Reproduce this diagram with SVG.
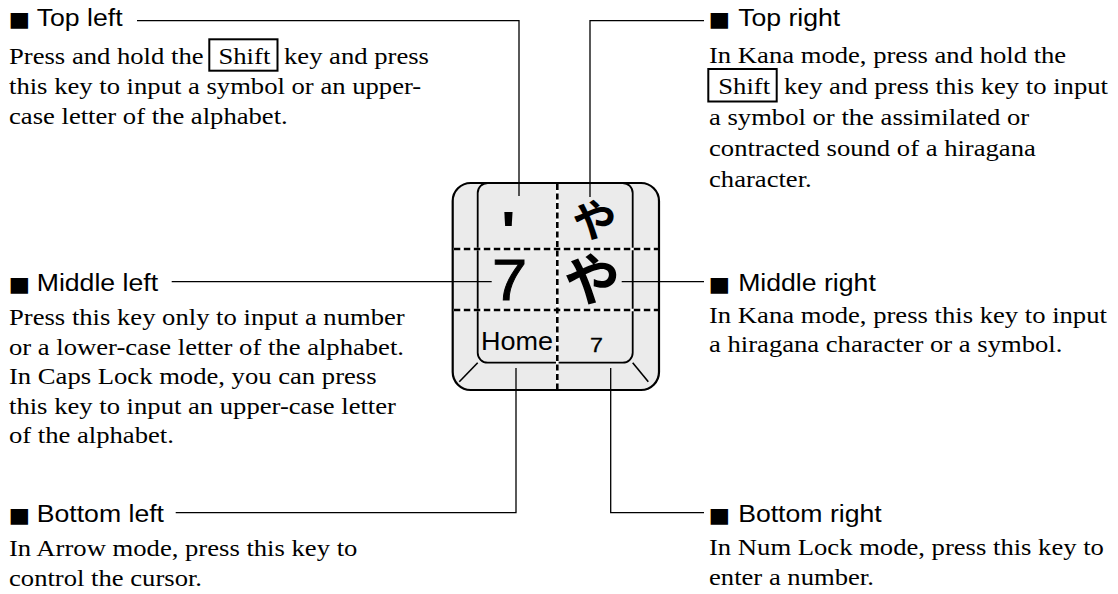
<svg xmlns="http://www.w3.org/2000/svg" width="1118" height="594" viewBox="0 0 1118 594">
<style>
.t{font-family:"Liberation Sans",Arial,"DejaVu Sans",sans-serif;font-size:24px;fill:#000}
.sq{font-family:"DejaVu Sans",sans-serif;font-size:20.5px}
.b{font-family:"Liberation Serif","Times New Roman",serif;font-size:24px;fill:#000}
.k{font-family:"Liberation Sans",Arial,sans-serif;fill:#000}
.j{font-family:"Noto Sans CJK JP","Noto Sans CJK SC",sans-serif;font-weight:700;fill:#000}
.box{fill:none;stroke:#000;stroke-width:2}
.conn{fill:none;stroke:#000;stroke-width:1.3}
.dw{stroke:#fff;stroke-width:2.6;fill:none}
.dk{stroke:#000;stroke-width:2.6;fill:none}
</style>
<rect width="1118" height="594" fill="#fff"/>

<g id="key">
  <rect x="452.7" y="183" width="206.3" height="207" rx="18" ry="18" fill="#ebebeb" stroke="#000" stroke-width="2.2"/>
  <rect x="477.7" y="183" width="155" height="179.7" rx="10" ry="10" fill="#ebebeb" stroke="#000" stroke-width="1.8"/>
  <line x1="477.7" y1="362.7" x2="459.3" y2="381.7" stroke="#000" stroke-width="1.6"/>
  <line x1="632.7" y1="362.7" x2="648.3" y2="381.7" stroke="#000" stroke-width="1.6"/>
  <line class="dw" x1="453.8" y1="249" x2="658" y2="249"/>
  <line class="dw" x1="453.8" y1="310" x2="658" y2="310"/>
  <line class="dw" x1="557.3" y1="184" x2="557.3" y2="389"/>
  <line class="dk" x1="453.8" y1="249" x2="658" y2="249" stroke-dasharray="6.5 3.5"/>
  <line class="dk" x1="453.8" y1="310" x2="658" y2="310" stroke-dasharray="6.5 3.5"/>
  <line class="dk" x1="557.3" y1="184" x2="557.3" y2="389" stroke-dasharray="6 3.5"/>
  <text class="k" font-size="56" font-weight="700" text-anchor="middle" transform="translate(508.5 250) scale(1.11 1)">'</text>
  <text class="j" font-size="44" text-anchor="middle" transform="translate(594.5 236.7)">や</text>
  <text class="k" font-size="57" text-anchor="middle" stroke="#000" stroke-width="0.9" transform="translate(509.5 300) scale(1.11 1)">7</text>
  <text class="j" font-size="56" text-anchor="middle" transform="translate(592 299.8)">や</text>
  <text class="k" font-size="25.5" transform="translate(481 350) scale(1.06 1)">Home</text>
  <text class="k" font-size="21" text-anchor="middle" stroke="#000" stroke-width="0.3" transform="translate(596.5 352) scale(1.11 1)">7</text>
</g>

<g id="connectors">
  <polyline class="conn" points="137,20.7 519,20.7 519,196"/>
  <polyline class="conn" points="590,197 590,20.7 704,20.7"/>
  <line class="conn" x1="171.7" y1="281.7" x2="491.7" y2="281.7"/>
  <line class="conn" x1="621.7" y1="281.7" x2="704" y2="281.7"/>
  <polyline class="conn" points="175.7,512.7 516,512.7 516,368"/>
  <polyline class="conn" points="610.7,368 610.7,512.7 704,512.7"/>
</g>

<g id="top-left">
  <text class="t" transform="translate(8.4 26) scale(1.11 1)"><tspan class="sq">■</tspan><tspan> </tspan><tspan x="25.5">Top left</tspan></text>
  <text class="b" transform="translate(9 64) scale(1.11 1)">Press and hold the</text>
  <rect class="box" x="209.3" y="39.3" width="68.2" height="31.4"/>
  <text class="b" transform="translate(218.5 64) scale(1.11 1)">Shift</text>
  <text class="b" transform="translate(284 64) scale(1.11 1)">key and press</text>
  <text class="b" transform="translate(9 94) scale(1.11 1)">this key to input a symbol or an upper-</text>
  <text class="b" transform="translate(9 124) scale(1.11 1)">case letter of the alphabet.</text>
</g>

<g id="middle-left">
  <text class="t" transform="translate(8.4 290.7) scale(1.11 1)"><tspan class="sq">■</tspan><tspan> </tspan><tspan x="25.5">Middle left</tspan></text>
  <text class="b" transform="translate(9 325) scale(1.11 1)">Press this key only to input a number</text>
  <text class="b" transform="translate(9 354.5) scale(1.11 1)">or a lower-case letter of the alphabet.</text>
  <text class="b" transform="translate(9 384) scale(1.11 1)">In Caps Lock mode, you can press</text>
  <text class="b" transform="translate(9 413.5) scale(1.11 1)">this key to input an upper-case letter</text>
  <text class="b" transform="translate(9 443) scale(1.11 1)">of the alphabet.</text>
</g>

<g id="bottom-left">
  <text class="t" transform="translate(8.4 522) scale(1.11 1)"><tspan class="sq">■</tspan><tspan> </tspan><tspan x="25.5">Bottom left</tspan></text>
  <text class="b" transform="translate(9 556) scale(1.11 1)">In Arrow mode, press this key to</text>
  <text class="b" transform="translate(9 586) scale(1.11 1)">control the cursor.</text>
</g>

<g id="top-right">
  <text class="t" transform="translate(708.4 26) scale(1.11 1)"><tspan class="sq">■</tspan><tspan> </tspan><tspan x="26.8">Top right</tspan></text>
  <text class="b" transform="translate(709 63) scale(1.11 1)">In Kana mode, press and hold the</text>
  <rect class="box" x="708.3" y="69" width="68.4" height="32.5"/>
  <text class="b" transform="translate(718.3 94) scale(1.11 1)">Shift</text>
  <text class="b" transform="translate(784 94) scale(1.11 1)">key and press this key to input</text>
  <text class="b" transform="translate(709 125) scale(1.11 1)">a symbol or the assimilated or</text>
  <text class="b" transform="translate(709 156) scale(1.11 1)">contracted sound of a hiragana</text>
  <text class="b" transform="translate(709 187) scale(1.11 1)">character.</text>
</g>

<g id="middle-right">
  <text class="t" transform="translate(708.4 290.7) scale(1.11 1)"><tspan class="sq">■</tspan><tspan> </tspan><tspan x="26.8">Middle right</tspan></text>
  <text class="b" transform="translate(709 323.3) scale(1.11 1)">In Kana mode, press this key to input</text>
  <text class="b" transform="translate(709 352) scale(1.11 1)">a hiragana character or a symbol.</text>
</g>

<g id="bottom-right">
  <text class="t" transform="translate(708.4 522) scale(1.11 1)"><tspan class="sq">■</tspan><tspan> </tspan><tspan x="26.8">Bottom right</tspan></text>
  <text class="b" transform="translate(709 555) scale(1.11 1)">In Num Lock mode, press this key to</text>
  <text class="b" transform="translate(709 585) scale(1.11 1)">enter a number.</text>
</g>
</svg>
